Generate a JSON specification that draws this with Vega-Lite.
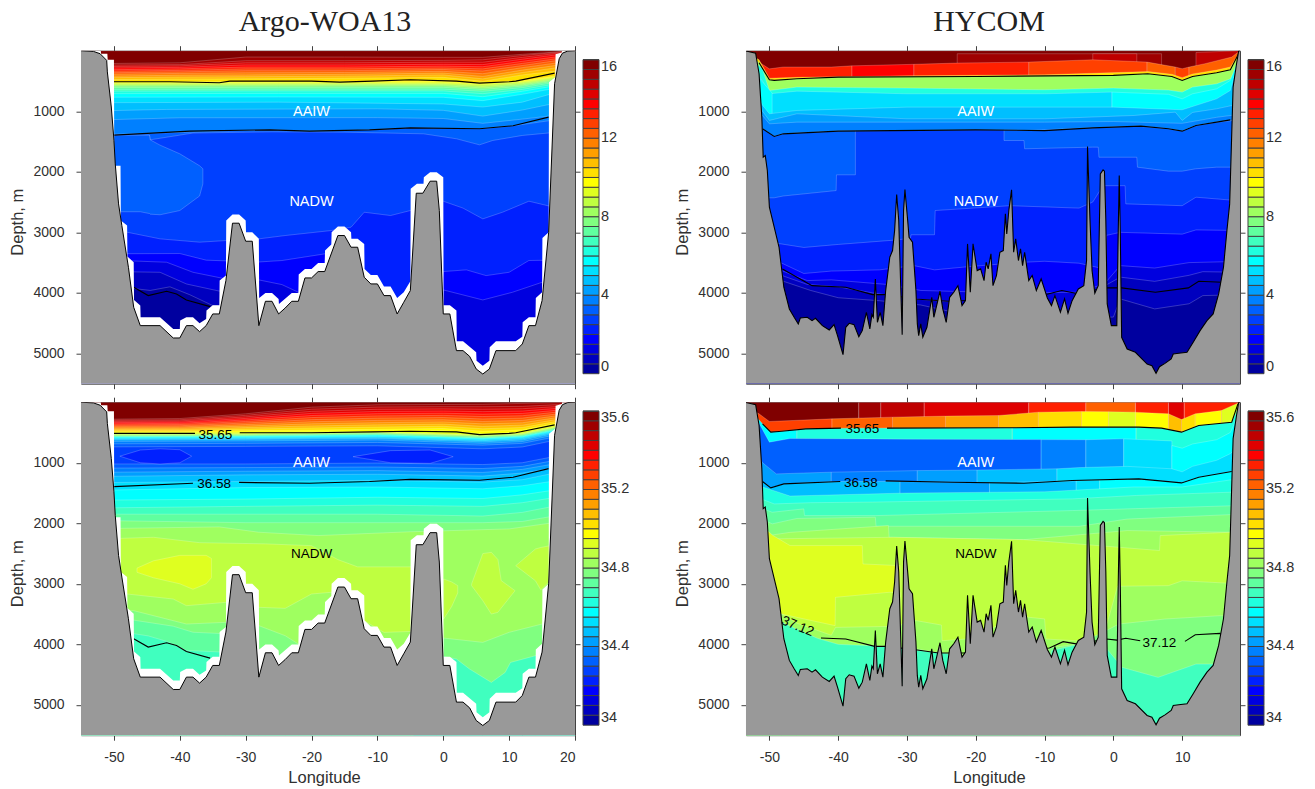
{"$schema":"https://vega.github.io/schema/vega-lite/v6.json","background":"white","padding":{"left":9,"top":6.7,"right":0,"bottom":0},"columns":2,"spacing":{"row":6.5,"column":44},"resolve":{"scale":{"color":"independent"}},
"config":{"view":{"stroke":null},"axis":{"grid":false,"domainColor":"#404040","tickColor":"#404040","labelColor":"#303030","titleColor":"#303030","labelFont":"Liberation Sans","titleFont":"Liberation Sans","labelFontSize":14,"titleFontSize":16.5,"titleFontWeight":"normal","tickSize":5,"zindex":1,"labelPadding":12,"labelExpr":"''+datum.value"},"axisX":{"labelPadding":10},"legend":{"labelFont":"Liberation Sans","labelFontSize":14.5,"labelColor":"#303030","labelOffset":14}},
"datasets":{
"bA":[{"x":-55,"d":0},{"x":-53.1,"d":12},{"x":-52.1,"d":50},{"x":-51.1,"d":160},{"x":-51,"d":350},{"x":-50.4,"d":930},{"x":-50,"d":1480},{"x":-49.8,"d":1870},{"x":-49.3,"d":2530},{"x":-48.8,"d":2888},{"x":-47.8,"d":3577},{"x":-47,"d":4238},{"x":-46,"d":4541},{"x":-43,"d":4541},{"x":-41,"d":4745},{"x":-40,"d":4745},{"x":-39,"d":4541},{"x":-38,"d":4541},{"x":-37,"d":4640},{"x":-36,"d":4541},{"x":-35,"d":4348},{"x":-34,"d":4348},{"x":-33,"d":3797},{"x":-32,"d":2849},{"x":-31,"d":2849},{"x":-30,"d":3147},{"x":-29,"d":3147},{"x":-28,"d":4541},{"x":-27,"d":4139},{"x":-26,"d":4139},{"x":-25,"d":4348},{"x":-24,"d":4250},{"x":-23,"d":4139},{"x":-22,"d":4139},{"x":-21,"d":3753},{"x":-20,"d":3753},{"x":-19,"d":3648},{"x":-18,"d":3648},{"x":-16,"d":3053},{"x":-15,"d":3053},{"x":-14,"d":3246},{"x":-13,"d":3246},{"x":-12,"d":3742},{"x":-11,"d":3852},{"x":-10,"d":3852},{"x":-9,"d":4045},{"x":-8,"d":4045},{"x":-7,"d":4348},{"x":-6,"d":4155},{"x":-5,"d":3962},{"x":-4.1,"d":2354},{"x":-3.1,"d":2354},{"x":-2,"d":2155},{"x":-1,"d":2155},{"x":-0.6,"d":2640},{"x":0,"d":4348},{"x":1,"d":4348},{"x":2,"d":4954},{"x":3,"d":4954},{"x":4,"d":5048},{"x":5,"d":5257},{"x":6,"d":5340},{"x":7,"d":5257},{"x":8,"d":4954},{"x":11,"d":4954},{"x":12,"d":4844},{"x":13,"d":4541},{"x":14,"d":4541},{"x":15,"d":4128},{"x":16,"d":3000},{"x":16.9,"d":546},{"x":17.6,"d":133},{"x":18.1,"d":40},{"x":18.9,"d":6},{"x":20,"d":0}],
"mA":[{"x":-55,"d":0},{"x":-52,"d":0},{"x":-51.95,"d":50},{"x":-51,"d":50},{"x":-50.95,"d":150},{"x":-50,"d":150},{"x":-49.95,"d":1900},{"x":-49,"d":1900},{"x":-48.95,"d":2805},{"x":-48,"d":2888},{"x":-47.95,"d":3400},{"x":-47,"d":3494},{"x":-46.95,"d":4117},{"x":-46,"d":4210},{"x":-45.95,"d":4403},{"x":-43,"d":4403},{"x":-41,"d":4596},{"x":-40,"d":4596},{"x":-39.95,"d":4458},{"x":-39,"d":4403},{"x":-38,"d":4403},{"x":-37,"d":4502},{"x":-36,"d":4430},{"x":-35.95,"d":4293},{"x":-35,"d":4205},{"x":-34,"d":4205},{"x":-33.95,"d":3797},{"x":-33,"d":3714},{"x":-32.95,"d":2805},{"x":-32,"d":2706},{"x":-31,"d":2706},{"x":-30,"d":2805},{"x":-29.95,"d":2998},{"x":-29,"d":2998},{"x":-28,"d":3108},{"x":-27.95,"d":4084},{"x":-27,"d":4001},{"x":-26,"d":4001},{"x":-25,"d":4100},{"x":-24.95,"d":4183},{"x":-23,"d":4001},{"x":-22,"d":4001},{"x":-21.95,"d":3698},{"x":-21,"d":3604},{"x":-20,"d":3604},{"x":-19,"d":3505},{"x":-18,"d":3505},{"x":-17.95,"d":3301},{"x":-17,"d":3202},{"x":-16.95,"d":2998},{"x":-16,"d":2904},{"x":-15,"d":2904},{"x":-14,"d":2998},{"x":-13.95,"d":3108},{"x":-13,"d":3108},{"x":-12,"d":3191},{"x":-11.95,"d":3604},{"x":-11,"d":3703},{"x":-10,"d":3703},{"x":-9,"d":3896},{"x":-8,"d":3896},{"x":-7,"d":4084},{"x":-6,"d":3990},{"x":-5,"d":3808},{"x":-4.95,"d":2282},{"x":-4,"d":2199},{"x":-3,"d":2199},{"x":-2.95,"d":2089},{"x":-2,"d":2006},{"x":-1,"d":2006},{"x":0,"d":2089},{"x":0.05,"d":4205},{"x":1,"d":4205},{"x":2,"d":4293},{"x":2.05,"d":4800},{"x":3,"d":4800},{"x":5,"d":4982},{"x":5.05,"d":5120},{"x":6,"d":5202},{"x":7,"d":5120},{"x":7.05,"d":4899},{"x":8,"d":4800},{"x":11,"d":4800},{"x":12,"d":4723},{"x":12.05,"d":4486},{"x":13,"d":4403},{"x":14,"d":4403},{"x":14.05,"d":4084},{"x":15,"d":3990},{"x":15.05,"d":3092},{"x":16,"d":3000},{"x":16.05,"d":520},{"x":17,"d":440},{"x":17.05,"d":60},{"x":18,"d":30},{"x":18.05,"d":0},{"x":20,"d":0}],
"bH":[{"x":-53.4,"d":6},{"x":-52,"d":40},{"x":-51.5,"d":380},{"x":-51.1,"d":1097},{"x":-50.9,"d":1758},{"x":-50.6,"d":1731},{"x":-50.3,"d":1979},{"x":-50,"d":2585},{"x":-49.3,"d":2915},{"x":-48.6,"d":3246},{"x":-47.9,"d":3907},{"x":-47.1,"d":4265},{"x":-46.4,"d":4403},{"x":-45.8,"d":4513},{"x":-45.5,"d":4414},{"x":-44.5,"d":4403},{"x":-43.8,"d":4458},{"x":-43.3,"d":4420},{"x":-42.3,"d":4541},{"x":-41.3,"d":4613},{"x":-40.6,"d":4524},{"x":-40.1,"d":4706},{"x":-39.3,"d":5020},{"x":-38.9,"d":4568},{"x":-38.4,"d":4502},{"x":-37.7,"d":4524},{"x":-37,"d":4723},{"x":-36.5,"d":4624},{"x":-35.9,"d":4321},{"x":-35.4,"d":4596},{"x":-35.1,"d":4359},{"x":-34.9,"d":4403},{"x":-34.6,"d":3770},{"x":-34.3,"d":4486},{"x":-33.9,"d":4321},{"x":-33.5,"d":4541},{"x":-33.1,"d":3962},{"x":-32.5,"d":3411},{"x":-32.1,"d":3301},{"x":-31.8,"d":2970},{"x":-31.5,"d":2376},{"x":-31.2,"d":2805},{"x":-30.7,"d":4690},{"x":-30.5,"d":2640},{"x":-30.3,"d":2293},{"x":-29.9,"d":2805},{"x":-29.7,"d":3081},{"x":-29.2,"d":3163},{"x":-28.7,"d":3962},{"x":-28.5,"d":4513},{"x":-28.3,"d":4706},{"x":-28,"d":4513},{"x":-27.7,"d":4734},{"x":-27.1,"d":4568},{"x":-26.4,"d":4073},{"x":-26.1,"d":4403},{"x":-25.8,"d":4265},{"x":-25.2,"d":3973},{"x":-24.8,"d":4265},{"x":-24.3,"d":4486},{"x":-23.8,"d":4073},{"x":-23.2,"d":3990},{"x":-22.6,"d":3880},{"x":-22,"d":4210},{"x":-21.5,"d":4128},{"x":-21.2,"d":3191},{"x":-20.8,"d":3990},{"x":-20.4,"d":3191},{"x":-19.8,"d":3632},{"x":-19.3,"d":3604},{"x":-18.8,"d":3797},{"x":-18.5,"d":3494},{"x":-18.2,"d":3604},{"x":-17.8,"d":3356},{"x":-17.5,"d":3880},{"x":-17,"d":3714},{"x":-16.5,"d":3329},{"x":-16,"d":3301},{"x":-15.7,"d":2695},{"x":-15.5,"d":3026},{"x":-15.2,"d":2640},{"x":-14.8,"d":2298},{"x":-14.5,"d":3329},{"x":-14.2,"d":3108},{"x":-13.8,"d":3466},{"x":-13.5,"d":3274},{"x":-13.2,"d":3549},{"x":-12.9,"d":3329},{"x":-12.3,"d":3797},{"x":-11.8,"d":3714},{"x":-11.2,"d":3962},{"x":-10.5,"d":3770},{"x":-9.6,"d":4084},{"x":-9,"d":4210},{"x":-8.5,"d":4045},{"x":-7.7,"d":4321},{"x":-7.1,"d":4100},{"x":-6.6,"d":4337},{"x":-6,"d":4128},{"x":-5.1,"d":3935},{"x":-4.3,"d":3880},{"x":-3.9,"d":3466},{"x":-3.76,"d":1582},{"x":-3.4,"d":2805},{"x":-3.1,"d":3632},{"x":-2.7,"d":4007},{"x":-2.2,"d":3880},{"x":-1.9,"d":2034},{"x":-1.5,"d":1968},{"x":-1.3,"d":1990},{"x":-1.1,"d":2805},{"x":-0.9,"d":4183},{"x":-0.3,"d":4541},{"x":0.5,"d":4541},{"x":0.7,"d":3000},{"x":0.85,"d":2061},{"x":1,"d":3000},{"x":1.2,"d":4734},{"x":2,"d":4927},{"x":3.2,"d":4982},{"x":4.9,"d":5175},{"x":5.6,"d":5202},{"x":6.2,"d":5329},{"x":6.7,"d":5219},{"x":7.5,"d":5164},{"x":8.4,"d":5092},{"x":8.7,"d":5009},{"x":9.5,"d":4998},{"x":10.7,"d":4982},{"x":11.6,"d":4816},{"x":12.6,"d":4624},{"x":13.6,"d":4458},{"x":14.5,"d":4348},{"x":15.3,"d":4018},{"x":16,"d":3577},{"x":16.5,"d":2970},{"x":16.9,"d":2530},{"x":17.4,"d":601},{"x":17.9,"d":216},{"x":18.2,"d":6},{"x":18.4,"d":0}],
"pA":[{"v":3.26,"x":-55,"d":1395,"b":2660},{"v":3.26,"x":-46,"d":1395,"b":2660},{"v":3.26,"x":-44.6,"d":1395,"b":2690},{"v":3.26,"x":-44.5,"d":1472,"b":2700},{"v":3.26,"x":-43,"d":1560,"b":2710},{"v":3.26,"x":-40,"d":1703,"b":2640},{"v":3.26,"x":-37,"d":1900,"b":2400},{"v":3.26,"x":-36.5,"d":1950,"b":2200}],
"pB":[{"v":3.26,"x":-53.4,"d":1200,"b":2430},{"v":3.26,"x":-51,"d":1290,"b":2430},{"v":3.26,"x":-49.3,"d":1417,"b":2430},{"v":3.26,"x":-48,"d":1373,"b":2400},{"v":3.26,"x":-40.3,"d":1329,"b":2310},{"v":3.26,"x":-40.25,"d":1329,"b":2050},{"v":3.26,"x":-37.5,"d":1320,"b":2050},
{"v":3.27,"x":-15.9,"d":1312,"b":1483},{"v":3.27,"x":-13,"d":1318,"b":1483},{"v":3.27,"x":-12.9,"d":1318,"b":1620},{"v":3.27,"x":-3,"d":1274,"b":1593},{"v":3.27,"x":-2.2,"d":1270,"b":1593},{"v":3.27,"x":-2.1,"d":1268,"b":1760},{"v":3.27,"x":3.4,"d":1248,"b":1760},{"v":3.27,"x":3.5,"d":1247,"b":1924},{"v":3.27,"x":8,"d":1290,"b":1990},{"v":3.27,"x":10,"d":1329,"b":1990},{"v":3.27,"x":12,"d":1235,"b":1950},{"v":3.27,"x":15,"d":1180,"b":1924},{"v":3.27,"x":18.4,"d":1142,"b":1924}],
"pC":[{"v":34.225,"x":-49.1,"d":892,"b":892},{"v":34.225,"x":-46,"d":790,"b":1000},{"v":34.225,"x":-43,"d":770,"b":1020},{"v":34.225,"x":-40,"d":785,"b":1000},{"v":34.225,"x":-38.2,"d":892,"b":892},
{"v":34.226,"x":-13.7,"d":900,"b":900},{"v":34.226,"x":-8,"d":800,"b":1000},{"v":34.226,"x":-2,"d":790,"b":1010},{"v":34.226,"x":1.5,"d":900,"b":900},
{"v":34.926,"x":-46.5,"d":2740,"b":2810},{"v":34.926,"x":-44,"d":2620,"b":2900},{"v":34.926,"x":-40,"d":2530,"b":3000},{"v":34.926,"x":-38,"d":2530,"b":3090},{"v":34.926,"x":-36,"d":2530,"b":3000},{"v":34.926,"x":-35.2,"d":2580,"b":2900},
{"v":34.877,"x":0.05,"d":2920,"b":3581},{"v":34.877,"x":1.3,"d":2970,"b":3370},{"v":34.877,"x":2.2,"d":3030,"b":3150},
{"v":34.878,"x":4.3,"d":3003,"b":3030},{"v":34.878,"x":6,"d":2500,"b":3278},{"v":34.878,"x":7.3,"d":2480,"b":3500},{"v":34.878,"x":8.3,"d":2600,"b":3470},{"v":34.878,"x":8.8,"d":2947,"b":3400},{"v":34.878,"x":10.9,"d":3113,"b":3113},
{"v":34.879,"x":11,"d":2700,"b":2700},{"v":34.879,"x":14,"d":2424,"b":2950},{"v":34.879,"x":14.8,"d":2400,"b":3100},{"v":34.879,"x":16.2,"d":2370,"b":2950}],
"tA":[{"v":15.75,"x":-55,"d":0},{"v":15.75,"x":20,"d":0},
{"v":15.25,"x":-55,"d":216},{"v":15.25,"x":-40,"d":200},{"v":15.25,"x":-30,"d":105},{"v":15.25,"x":-15,"d":105},{"v":15.25,"x":0,"d":110},{"v":15.25,"x":6,"d":110},{"v":15.25,"x":12,"d":60},{"v":15.25,"x":20,"d":0},
{"v":14.75,"x":-55,"d":240},{"v":14.75,"x":-40,"d":230},{"v":14.75,"x":-30,"d":165},{"v":14.75,"x":-15,"d":165},{"v":14.75,"x":0,"d":160},{"v":14.75,"x":6,"d":150},{"v":14.75,"x":12,"d":80},{"v":14.75,"x":20,"d":0},
{"v":14.25,"x":-55,"d":265},{"v":14.25,"x":-40,"d":250},{"v":14.25,"x":-30,"d":200},{"v":14.25,"x":-15,"d":200},{"v":14.25,"x":0,"d":190},{"v":14.25,"x":6,"d":190},{"v":14.25,"x":12,"d":110},{"v":14.25,"x":20,"d":10},
{"v":13.75,"x":-55,"d":290},{"v":13.75,"x":-40,"d":275},{"v":13.75,"x":-30,"d":235},{"v":13.75,"x":-15,"d":235},{"v":13.75,"x":0,"d":225},{"v":13.75,"x":6,"d":230},{"v":13.75,"x":12,"d":140},{"v":13.75,"x":20,"d":30},
{"v":13.25,"x":-55,"d":320},{"v":13.25,"x":-40,"d":300},{"v":13.25,"x":-30,"d":270},{"v":13.25,"x":-15,"d":270},{"v":13.25,"x":0,"d":255},{"v":13.25,"x":6,"d":265},{"v":13.25,"x":12,"d":175},{"v":13.25,"x":20,"d":60},
{"v":12.75,"x":-55,"d":345},{"v":12.75,"x":-40,"d":325},{"v":12.75,"x":-30,"d":300},{"v":12.75,"x":-15,"d":300},{"v":12.75,"x":0,"d":285},{"v":12.75,"x":6,"d":300},{"v":12.75,"x":12,"d":210},{"v":12.75,"x":20,"d":90},
{"v":12.25,"x":-55,"d":370},{"v":12.25,"x":-40,"d":350},{"v":12.25,"x":-30,"d":330},{"v":12.25,"x":-15,"d":330},{"v":12.25,"x":0,"d":310},{"v":12.25,"x":6,"d":335},{"v":12.25,"x":12,"d":245},{"v":12.25,"x":20,"d":120},
{"v":11.75,"x":-55,"d":395},{"v":11.75,"x":-40,"d":375},{"v":11.75,"x":-30,"d":365},{"v":11.75,"x":-15,"d":360},{"v":11.75,"x":0,"d":340},{"v":11.75,"x":6,"d":380},{"v":11.75,"x":12,"d":280},{"v":11.75,"x":20,"d":160},
{"v":11.25,"x":-55,"d":425},{"v":11.25,"x":-40,"d":405},{"v":11.25,"x":-30,"d":400},{"v":11.25,"x":-15,"d":390},{"v":11.25,"x":0,"d":370},{"v":11.25,"x":6,"d":425},{"v":11.25,"x":12,"d":320},{"v":11.25,"x":20,"d":200},
{"v":10.75,"x":-55,"d":450},{"v":10.75,"x":-40,"d":435},{"v":10.75,"x":-30,"d":430},{"v":10.75,"x":-15,"d":420},{"v":10.75,"x":0,"d":400},{"v":10.75,"x":6,"d":465},{"v":10.75,"x":12,"d":360},{"v":10.75,"x":20,"d":240},
{"v":10.25,"x":-55,"d":480},{"v":10.25,"x":-40,"d":470},{"v":10.25,"x":-30,"d":465},{"v":10.25,"x":-15,"d":455},{"v":10.25,"x":0,"d":440},{"v":10.25,"x":6,"d":505},{"v":10.25,"x":12,"d":400},{"v":10.25,"x":20,"d":300},
{"v":9.75,"x":-55,"d":513},{"v":9.75,"x":-40,"d":513},{"v":9.75,"x":-25,"d":510},{"v":9.75,"x":-10,"d":505},{"v":9.75,"x":0,"d":505},{"v":9.75,"x":6,"d":535},{"v":9.75,"x":12,"d":495},{"v":9.75,"x":20,"d":370},
{"v":9.25,"x":-55,"d":530},{"v":9.25,"x":-25,"d":525},{"v":9.25,"x":0,"d":520},{"v":9.25,"x":6,"d":550},{"v":9.25,"x":12,"d":510},{"v":9.25,"x":20,"d":385},
{"v":8.75,"x":-55,"d":545},{"v":8.75,"x":-25,"d":540},{"v":8.75,"x":0,"d":540},{"v":8.75,"x":6,"d":565},{"v":8.75,"x":12,"d":525},{"v":8.75,"x":20,"d":400},
{"v":8.25,"x":-55,"d":565},{"v":8.25,"x":-25,"d":560},{"v":8.25,"x":0,"d":560},{"v":8.25,"x":6,"d":590},{"v":8.25,"x":12,"d":545},{"v":8.25,"x":20,"d":415},
{"v":7.75,"x":-55,"d":585},{"v":7.75,"x":-25,"d":580},{"v":7.75,"x":0,"d":580},{"v":7.75,"x":6,"d":615},{"v":7.75,"x":12,"d":565},{"v":7.75,"x":20,"d":430},
{"v":7.25,"x":-55,"d":610},{"v":7.25,"x":-25,"d":605},{"v":7.25,"x":0,"d":605},{"v":7.25,"x":6,"d":640},{"v":7.25,"x":12,"d":585},{"v":7.25,"x":20,"d":450},
{"v":6.75,"x":-55,"d":640},{"v":6.75,"x":-25,"d":635},{"v":6.75,"x":0,"d":635},{"v":6.75,"x":6,"d":670},{"v":6.75,"x":12,"d":610},{"v":6.75,"x":20,"d":470},
{"v":6.25,"x":-55,"d":670},{"v":6.25,"x":-25,"d":665},{"v":6.25,"x":0,"d":665},{"v":6.25,"x":6,"d":710},{"v":6.25,"x":12,"d":640},{"v":6.25,"x":20,"d":495},
{"v":5.75,"x":-55,"d":710},{"v":5.75,"x":-25,"d":705},{"v":5.75,"x":0,"d":705},{"v":5.75,"x":6,"d":760},{"v":5.75,"x":12,"d":670},{"v":5.75,"x":20,"d":525},
{"v":5.25,"x":-55,"d":770},{"v":5.25,"x":-25,"d":765},{"v":5.25,"x":0,"d":770},{"v":5.25,"x":6,"d":825},{"v":5.25,"x":12,"d":720},{"v":5.25,"x":20,"d":560},
{"v":4.75,"x":-55,"d":860},{"v":4.75,"x":-25,"d":850},{"v":4.75,"x":0,"d":880},{"v":4.75,"x":6,"d":930},{"v":4.75,"x":12,"d":850},{"v":4.75,"x":20,"d":600},
{"v":4.25,"x":-55,"d":1000},{"v":4.25,"x":-42,"d":970},{"v":4.25,"x":-10,"d":960},{"v":4.25,"x":0,"d":985},{"v":4.25,"x":6,"d":1080},{"v":4.25,"x":12,"d":980},{"v":4.25,"x":20,"d":800},
{"v":3.75,"x":-55,"d":1152},{"v":3.75,"x":-40,"d":1108},{"v":3.75,"x":-10,"d":1105},{"v":3.75,"x":0,"d":1120},{"v":3.75,"x":6,"d":1200},{"v":3.75,"x":12,"d":1130},{"v":3.75,"x":20,"d":1030},
{"v":3.25,"x":-55,"d":1395},{"v":3.25,"x":-40,"d":1350},{"v":3.25,"x":-26,"d":1307},{"v":3.25,"x":-20,"d":1329},{"v":3.25,"x":-11,"d":1307},{"v":3.25,"x":-5,"d":1274},{"v":3.25,"x":5.5,"d":1290},{"v":3.25,"x":10.6,"d":1240},{"v":3.25,"x":20,"d":1097},
{"v":2.75,"x":-55,"d":1395},{"v":2.75,"x":-44.6,"d":1395},{"v":2.75,"x":-44.5,"d":1472},{"v":2.75,"x":-38,"d":1360},{"v":2.75,"x":-26,"d":1340},{"v":2.75,"x":-15,"d":1345},{"v":2.75,"x":-3,"d":1373},{"v":2.75,"x":2,"d":1455},{"v":2.75,"x":5.5,"d":1555},{"v":2.75,"x":7.5,"d":1483},{"v":2.75,"x":12,"d":1400},{"v":2.75,"x":20,"d":1318},
{"v":2.25,"x":-55,"d":2998},{"v":2.25,"x":-48,"d":2998},{"v":2.25,"x":-43,"d":3108},{"v":2.25,"x":-37,"d":3163},{"v":2.25,"x":-33,"d":3136},{"v":2.25,"x":-28,"d":3108},{"v":2.25,"x":-24,"d":3053},{"v":2.25,"x":-17,"d":2970},{"v":2.25,"x":-14,"d":2915},{"v":2.25,"x":-12,"d":2668},{"v":2.25,"x":-8,"d":2723},{"v":2.25,"x":-5,"d":2640},{"v":2.25,"x":0,"d":2486},{"v":2.25,"x":3,"d":2600},{"v":2.25,"x":6,"d":2778},{"v":2.25,"x":9,"d":2668},{"v":2.25,"x":13,"d":2486},{"v":2.25,"x":20,"d":2668},
{"v":1.75,"x":-55,"d":3356},{"v":1.75,"x":-40,"d":3350},{"v":1.75,"x":-36,"d":3460},{"v":1.75,"x":-28,"d":3490},{"v":1.75,"x":-24.5,"d":3466},{"v":1.75,"x":-18,"d":3356},{"v":1.75,"x":-14,"d":3300},{"v":1.75,"x":-13,"d":4600},{"v":1.75,"x":-1,"d":4600},{"v":1.75,"x":0,"d":3648},{"v":1.75,"x":3.5,"d":3620},{"v":1.75,"x":6.5,"d":3715},{"v":1.75,"x":10,"d":3660},{"v":1.75,"x":13,"d":3465},{"v":1.75,"x":20,"d":3455},
{"v":1.25,"x":-55,"d":3440},{"v":1.25,"x":-42,"d":3494},{"v":1.25,"x":-38,"d":3660},{"v":1.25,"x":-33,"d":3770},{"v":1.25,"x":-28,"d":3786},{"v":1.25,"x":-24.5,"d":3863},{"v":1.25,"x":-22,"d":3990},{"v":1.25,"x":-18,"d":4600},{"v":1.25,"x":-1,"d":4600},{"v":1.25,"x":0,"d":3951},{"v":1.25,"x":6,"d":4117},{"v":1.25,"x":10.5,"d":3990},{"v":1.25,"x":15,"d":3825},{"v":1.25,"x":20,"d":3825},
{"v":0.75,"x":-55,"d":3640},{"v":0.75,"x":-43,"d":3660},{"v":0.75,"x":-39,"d":3853},{"v":0.75,"x":-32,"d":4018},
{"v":0.25,"x":-55,"d":3825},{"v":0.25,"x":-44.5,"d":3960},{"v":0.25,"x":-41.5,"d":3900},{"v":0.25,"x":-38.5,"d":4030},{"v":0.25,"x":-35,"d":4210},{"v":0.25,"x":-32,"d":4230}],
"lA":[{"s":1,"x":-50,"d":513},{"s":1,"x":-41.5,"d":513},{"s":1,"x":-34,"d":530},{"s":1,"x":-32.4,"d":502},{"s":1,"x":-20,"d":502},{"s":1,"x":-15.7,"d":519},{"s":1,"x":-10.7,"d":502},{"s":1,"x":-5,"d":480},{"s":1,"x":2,"d":502},{"s":1,"x":5.5,"d":535},{"s":1,"x":10,"d":513},{"s":1,"x":11,"d":502},{"s":1,"x":16.9,"d":370},
{"s":2,"x":-50,"d":1395},{"s":2,"x":-38.5,"d":1329},{"s":2,"x":-26.3,"d":1307},{"s":2,"x":-20.3,"d":1329},{"s":2,"x":-11.2,"d":1307},{"s":2,"x":-5,"d":1274},{"s":2,"x":5.5,"d":1290},{"s":2,"x":10.6,"d":1240},{"s":2,"x":16,"d":1097},
{"s":3,"x":-47,"d":3907},{"s":3,"x":-44.8,"d":4045},{"s":3,"x":-42,"d":3973},{"s":3,"x":-40.5,"d":4018},{"s":3,"x":-39,"d":4117},{"s":3,"x":-35.4,"d":4227}],
"tB":[{"v":15.75,"x":-53.4,"d":0},{"v":15.75,"x":18.4,"d":0},
{"v":15.26,"x":-22.7,"d":50},{"v":15.26,"x":7,"d":50},{"v":14.76,"x":-3,"d":50},{"v":14.76,"x":3.4,"d":50},{"v":14.75,"x":12,"d":30},{"v":14.75,"x":18.4,"d":0},
{"v":13.25,"x":-53,"d":50},{"v":13.25,"x":-51.5,"d":190},{"v":13.25,"x":-50,"d":300},{"v":13.25,"x":-48,"d":270},{"v":13.25,"x":-41,"d":270},{"v":13.25,"x":-38,"d":250},
{"v":13.75,"x":-38,"d":250},{"v":13.75,"x":-29,"d":225},
{"v":13.26,"x":-29,"d":225},{"v":13.26,"x":-23,"d":205},{"v":13.26,"x":-12.3,"d":188},
{"v":12.75,"x":-12.3,"d":188},{"v":12.75,"x":-3,"d":150},{"v":12.75,"x":4.9,"d":188},
{"v":12.25,"x":4.9,"d":188},{"v":12.25,"x":9,"d":270},
{"v":12.76,"x":9,"d":270},{"v":12.76,"x":10,"d":298},{"v":12.76,"x":11,"d":270},
{"v":12.26,"x":11,"d":270},{"v":12.26,"x":13.3,"d":215},{"v":12.26,"x":17.2,"d":105},{"v":12.26,"x":18.4,"d":0},
{"v":10.25,"x":-53,"d":50},{"v":10.25,"x":-51.5,"d":150},{"v":10.25,"x":-50,"d":455},{"v":10.25,"x":-46,"d":440},{"v":10.25,"x":-30,"d":415},{"v":10.25,"x":-10,"d":398},{"v":10.25,"x":5,"d":345},{"v":10.25,"x":8.5,"d":390},{"v":10.25,"x":10,"d":445},{"v":10.25,"x":11.5,"d":385},{"v":10.25,"x":15,"d":320},{"v":10.25,"x":17,"d":270},{"v":10.25,"x":18.4,"d":20},
{"v":8.25,"x":-53,"d":50},{"v":8.25,"x":-51.5,"d":200},{"v":8.25,"x":-50,"d":480},{"v":8.25,"x":-49.3,"d":490},{"v":8.25,"x":-46,"d":464},{"v":8.25,"x":-40,"d":436},{"v":8.25,"x":-20,"d":425},{"v":8.25,"x":0,"d":408},{"v":8.25,"x":5,"d":381},{"v":8.25,"x":8.5,"d":425},{"v":8.25,"x":10,"d":491},{"v":8.25,"x":11.5,"d":425},{"v":8.25,"x":15,"d":364},{"v":8.25,"x":17,"d":315},{"v":8.25,"x":18.4,"d":50},
{"v":6.25,"x":-53,"d":100},{"v":6.25,"x":-51,"d":300},{"v":6.25,"x":-50,"d":657},{"v":6.25,"x":-46,"d":601},{"v":6.25,"x":-30,"d":618},{"v":6.25,"x":-10,"d":645},{"v":6.25,"x":0,"d":618},{"v":6.25,"x":8,"d":650},{"v":6.25,"x":10,"d":684},{"v":6.25,"x":11.5,"d":601},{"v":6.25,"x":15,"d":546},{"v":6.25,"x":17,"d":464},{"v":6.25,"x":18.4,"d":160},
{"v":5.25,"x":-53,"d":200},{"v":5.25,"x":-51,"d":500},{"v":5.25,"x":-50,"d":712},{"v":5.25,"x":-46,"d":668},{"v":5.25,"x":-30,"d":712},{"v":5.25,"x":-10,"d":712},{"v":5.25,"x":-0.2,"d":684},
{"v":5.75,"x":-0.2,"d":684},{"v":5.75,"x":8,"d":720},{"v":5.75,"x":10,"d":795},{"v":5.75,"x":11.5,"d":712},{"v":5.75,"x":15,"d":630},{"v":5.75,"x":17,"d":491},{"v":5.75,"x":18.4,"d":60},
{"v":5.76,"x":-51.5,"d":450},{"v":5.76,"x":-49.6,"d":700},
{"v":4.75,"x":-53,"d":400},{"v":4.75,"x":-51,"d":900},{"v":4.75,"x":-50,"d":1042},{"v":4.75,"x":-46,"d":987},{"v":4.75,"x":-30,"d":932},{"v":4.75,"x":0,"d":932},{"v":4.75,"x":10,"d":976},{"v":4.75,"x":15,"d":795},{"v":4.75,"x":17,"d":657},{"v":4.75,"x":18.4,"d":60},
{"v":4.25,"x":-53,"d":500},{"v":4.25,"x":-51,"d":1000},{"v":4.25,"x":-50,"d":1152},{"v":4.25,"x":-46,"d":1042},{"v":4.25,"x":-30,"d":1125},{"v":4.25,"x":-10,"d":1125},{"v":4.25,"x":3,"d":1070},{"v":4.25,"x":9,"d":1015},{"v":4.25,"x":10,"d":1152},{"v":4.25,"x":11.5,"d":1020},{"v":4.25,"x":15,"d":960},{"v":4.25,"x":18.4,"d":877},
{"v":3.75,"x":-53,"d":800},{"v":3.75,"x":-50,"d":1208},{"v":3.75,"x":-46,"d":1180},{"v":3.75,"x":-10,"d":1180},{"v":3.75,"x":0,"d":1170},{"v":3.75,"x":10,"d":1200},{"v":3.75,"x":15,"d":1100},{"v":3.75,"x":18.4,"d":1050},
{"v":2.75,"x":-53.4,"d":1200},{"v":2.75,"x":-51,"d":1290},{"v":2.75,"x":-49.3,"d":1417},{"v":2.75,"x":-48,"d":1373},{"v":2.75,"x":-40,"d":1329},{"v":2.75,"x":-20,"d":1307},{"v":2.75,"x":-10,"d":1320},{"v":2.75,"x":-3,"d":1274},{"v":2.75,"x":4,"d":1246},{"v":2.75,"x":8,"d":1290},{"v":2.75,"x":10,"d":1329},{"v":2.75,"x":12,"d":1235},{"v":2.75,"x":15,"d":1180},{"v":2.75,"x":18.4,"d":1142},
{"v":2.25,"x":-53.4,"d":3100},{"v":2.25,"x":-45,"d":3250},{"v":2.25,"x":-40,"d":3200},{"v":2.25,"x":-32,"d":3130},{"v":2.25,"x":-29.5,"d":3100},{"v":2.25,"x":-29.4,"d":3040},{"v":2.25,"x":-26,"d":3040},{"v":2.25,"x":-25.9,"d":2640},{"v":2.25,"x":-15,"d":2560},{"v":2.25,"x":-5,"d":2600},{"v":2.25,"x":-3,"d":2500},{"v":2.25,"x":-1.5,"d":2230},{"v":2.25,"x":1.7,"d":2230},{"v":2.25,"x":1.8,"d":2530},{"v":2.25,"x":10,"d":2560},{"v":2.25,"x":12,"d":2420},{"v":2.25,"x":18.4,"d":2480},
{"v":1.75,"x":-53.4,"d":3400},{"v":1.75,"x":-49.5,"d":3440},{"v":1.75,"x":-45,"d":3680},{"v":1.75,"x":-41,"d":3640},{"v":1.75,"x":-34,"d":3620},{"v":1.75,"x":-29,"d":3550},{"v":1.75,"x":-26,"d":3620},{"v":1.75,"x":-22,"d":3577},{"v":1.75,"x":-14,"d":3500},{"v":1.75,"x":-10,"d":3478},{"v":1.75,"x":-5,"d":3510},{"v":1.75,"x":-1.5,"d":3600},{"v":1.75,"x":-1,"d":3050},{"v":1.75,"x":1,"d":3000},{"v":1.75,"x":10,"d":3030},{"v":1.75,"x":12,"d":2960},{"v":1.75,"x":18.4,"d":2970},
{"v":1.25,"x":-53.4,"d":3550},{"v":1.25,"x":-49.5,"d":3577},{"v":1.25,"x":-44.5,"d":3797},{"v":1.25,"x":-41,"d":3785},{"v":1.25,"x":-33,"d":3860},{"v":1.25,"x":-28,"d":3960},{"v":1.25,"x":-15,"d":4000},{"v":1.25,"x":-5,"d":3990},{"v":1.25,"x":-1.3,"d":3850},{"v":1.25,"x":1,"d":3550},{"v":1.25,"x":6,"d":3590},{"v":1.25,"x":11,"d":3500},{"v":1.25,"x":18.4,"d":3480},
{"v":0.75,"x":-53.4,"d":3600},{"v":0.75,"x":-49.5,"d":3660},{"v":0.75,"x":-44.5,"d":3860},{"v":0.75,"x":-40,"d":3900},{"v":0.75,"x":-35,"d":4000},{"v":0.75,"x":-29,"d":4100},{"v":0.75,"x":-23,"d":4150},{"v":0.75,"x":-15,"d":4900},{"v":0.75,"x":-2,"d":4900},{"v":0.75,"x":-1.5,"d":3900},{"v":0.75,"x":1,"d":3740},{"v":0.75,"x":6,"d":3810},{"v":0.75,"x":11,"d":3710},{"v":0.75,"x":13,"d":3650},{"v":0.75,"x":18.4,"d":3660},
{"v":0.25,"x":-53.4,"d":3700},{"v":0.25,"x":-49.5,"d":3750},{"v":0.25,"x":-44,"d":3960},{"v":0.25,"x":-40,"d":4080},{"v":0.25,"x":-34,"d":4130},{"v":0.25,"x":-28,"d":4200},{"v":0.25,"x":-20,"d":4400},{"v":0.25,"x":0,"d":4400},{"v":0.25,"x":1,"d":4100},{"v":0.25,"x":6,"d":4265},{"v":0.25,"x":11,"d":4180},{"v":0.25,"x":13,"d":4045},{"v":0.25,"x":18.4,"d":4030}],
"lB":[{"s":1,"x":-51.5,"d":200},{"s":1,"x":-50,"d":480},{"s":1,"x":-49.3,"d":490},{"s":1,"x":-46,"d":464},{"s":1,"x":-40,"d":436},{"s":1,"x":-20,"d":425},{"s":1,"x":0,"d":408},{"s":1,"x":5,"d":381},{"s":1,"x":8.5,"d":425},{"s":1,"x":10,"d":491},{"s":1,"x":11.5,"d":425},{"s":1,"x":15,"d":364},{"s":1,"x":17,"d":315},{"s":1,"x":18.2,"d":50},
{"s":2,"x":-51,"d":1290},{"s":2,"x":-49.3,"d":1417},{"s":2,"x":-48,"d":1373},{"s":2,"x":-40,"d":1329},{"s":2,"x":-20,"d":1307},{"s":2,"x":-10,"d":1320},{"s":2,"x":-3,"d":1274},{"s":2,"x":4,"d":1246},{"s":2,"x":8,"d":1290},{"s":2,"x":10,"d":1329},{"s":2,"x":12,"d":1235},{"s":2,"x":15,"d":1180},{"s":2,"x":17,"d":1142},
{"s":3,"x":-48.1,"d":3604},{"s":3,"x":-43.8,"d":3880},{"s":3,"x":-38.9,"d":3907},{"s":3,"x":-35,"d":4029},{"s":3,"x":-33.1,"d":4029},{"s":3,"x":-28.8,"d":4100},{"s":3,"x":-23.9,"d":4139},{"s":3,"x":-11.8,"d":4084},{"s":3,"x":-7.5,"d":3962},{"s":3,"x":-5.5,"d":4007},{"s":3,"x":-0.9,"d":3918},{"s":3,"x":1.2,"d":3918},{"s":3,"x":6.1,"d":3990},{"s":3,"x":10.9,"d":3918},{"s":3,"x":12.4,"d":3808},{"s":3,"x":15.8,"d":3825}],
"tC":[{"v":35.575,"x":-55,"d":0},{"v":35.575,"x":20,"d":0},
{"v":35.525,"x":-55,"d":286},{"v":35.525,"x":-40,"d":270},{"v":35.525,"x":-30,"d":192},{"v":35.525,"x":-20,"d":82},{"v":35.525,"x":-10,"d":43},{"v":35.525,"x":6,"d":35},{"v":35.525,"x":20,"d":0},
{"v":35.475,"x":-55,"d":304},{"v":35.475,"x":-40,"d":290},{"v":35.475,"x":-30,"d":217},{"v":35.475,"x":-20,"d":116},{"v":35.475,"x":-10,"d":80},{"v":35.475,"x":0,"d":74},{"v":35.475,"x":6,"d":75},{"v":35.475,"x":12,"d":69},{"v":35.475,"x":20,"d":26},
{"v":35.425,"x":-55,"d":323},{"v":35.425,"x":-40,"d":309},{"v":35.425,"x":-30,"d":242},{"v":35.425,"x":-20,"d":151},{"v":35.425,"x":-10,"d":117},{"v":35.425,"x":0,"d":110},{"v":35.425,"x":6,"d":116},{"v":35.425,"x":12,"d":108},{"v":35.425,"x":20,"d":53},
{"v":35.375,"x":-55,"d":341},{"v":35.375,"x":-40,"d":329},{"v":35.375,"x":-30,"d":268},{"v":35.375,"x":-20,"d":185},{"v":35.375,"x":-10,"d":153},{"v":35.375,"x":0,"d":146},{"v":35.375,"x":6,"d":156},{"v":35.375,"x":12,"d":146},{"v":35.375,"x":20,"d":79},
{"v":35.325,"x":-55,"d":360},{"v":35.325,"x":-40,"d":349},{"v":35.325,"x":-30,"d":293},{"v":35.325,"x":-20,"d":220},{"v":35.325,"x":-10,"d":190},{"v":35.325,"x":0,"d":182},{"v":35.325,"x":6,"d":197},{"v":35.325,"x":12,"d":185},{"v":35.325,"x":20,"d":105},
{"v":35.275,"x":-55,"d":378},{"v":35.275,"x":-40,"d":369},{"v":35.275,"x":-30,"d":318},{"v":35.275,"x":-20,"d":254},{"v":35.275,"x":-10,"d":227},{"v":35.275,"x":0,"d":218},{"v":35.275,"x":6,"d":237},{"v":35.275,"x":12,"d":224},{"v":35.275,"x":20,"d":131},
{"v":35.225,"x":-55,"d":397},{"v":35.225,"x":-40,"d":389},{"v":35.225,"x":-30,"d":343},{"v":35.225,"x":-20,"d":288},{"v":35.225,"x":-10,"d":264},{"v":35.225,"x":0,"d":254},{"v":35.225,"x":6,"d":277},{"v":35.225,"x":12,"d":263},{"v":35.225,"x":20,"d":158},
{"v":35.175,"x":-55,"d":415},{"v":35.175,"x":-40,"d":408},{"v":35.175,"x":-30,"d":369},{"v":35.175,"x":-20,"d":323},{"v":35.175,"x":-10,"d":301},{"v":35.175,"x":0,"d":290},{"v":35.175,"x":6,"d":318},{"v":35.175,"x":12,"d":301},{"v":35.175,"x":20,"d":184},
{"v":35.125,"x":-55,"d":434},{"v":35.125,"x":-40,"d":428},{"v":35.125,"x":-30,"d":394},{"v":35.125,"x":-20,"d":357},{"v":35.125,"x":-10,"d":338},{"v":35.125,"x":0,"d":326},{"v":35.125,"x":6,"d":358},{"v":35.125,"x":12,"d":340},{"v":35.125,"x":20,"d":210},
{"v":35.075,"x":-55,"d":452},{"v":35.075,"x":-40,"d":448},{"v":35.075,"x":-30,"d":419},{"v":35.075,"x":-20,"d":392},{"v":35.075,"x":-10,"d":374},{"v":35.075,"x":0,"d":362},{"v":35.075,"x":6,"d":399},{"v":35.075,"x":12,"d":379},{"v":35.075,"x":20,"d":236},
{"v":35.025,"x":-55,"d":470},{"v":35.025,"x":-40,"d":467},{"v":35.025,"x":-30,"d":444},{"v":35.025,"x":-20,"d":426},{"v":35.025,"x":-10,"d":411},{"v":35.025,"x":0,"d":398},{"v":35.025,"x":6,"d":439},{"v":35.025,"x":12,"d":418},{"v":35.025,"x":20,"d":263},
{"v":34.975,"x":-55,"d":489},{"v":34.975,"x":-40,"d":487},{"v":34.975,"x":-30,"d":470},{"v":34.975,"x":-20,"d":461},{"v":34.975,"x":-10,"d":448},{"v":34.975,"x":0,"d":434},{"v":34.975,"x":6,"d":480},{"v":34.975,"x":12,"d":456},{"v":34.975,"x":20,"d":289},
{"v":34.925,"x":-55,"d":507},{"v":34.925,"x":-30,"d":495},{"v":34.925,"x":-10,"d":485},{"v":34.925,"x":0,"d":470},{"v":34.925,"x":6,"d":520},{"v":34.925,"x":12,"d":495},{"v":34.925,"x":20,"d":315},
{"v":34.875,"x":-55,"d":530},{"v":34.875,"x":-30,"d":520},{"v":34.875,"x":-10,"d":495},{"v":34.875,"x":6,"d":545},{"v":34.875,"x":12,"d":518},{"v":34.875,"x":20,"d":340},
{"v":34.825,"x":-55,"d":538},{"v":34.825,"x":-30,"d":528},{"v":34.825,"x":-10,"d":503},{"v":34.825,"x":6,"d":553},{"v":34.825,"x":12,"d":526},{"v":34.825,"x":20,"d":350},
{"v":34.725,"x":-55,"d":554},{"v":34.725,"x":-30,"d":544},{"v":34.725,"x":-10,"d":519},{"v":34.725,"x":6,"d":570},{"v":34.725,"x":12,"d":543},{"v":34.725,"x":20,"d":370},
{"v":34.625,"x":-55,"d":570},{"v":34.625,"x":-30,"d":560},{"v":34.625,"x":-10,"d":537},{"v":34.625,"x":6,"d":590},{"v":34.625,"x":12,"d":560},{"v":34.625,"x":20,"d":390},
{"v":34.575,"x":-55,"d":580},{"v":34.575,"x":-30,"d":570},{"v":34.575,"x":-10,"d":547},{"v":34.575,"x":6,"d":600},{"v":34.575,"x":12,"d":570},{"v":34.575,"x":20,"d":400},
{"v":34.525,"x":-55,"d":595},{"v":34.525,"x":-30,"d":585},{"v":34.525,"x":-10,"d":565},{"v":34.525,"x":6,"d":615},{"v":34.525,"x":12,"d":585},{"v":34.525,"x":20,"d":415},
{"v":34.475,"x":-55,"d":610},{"v":34.475,"x":-30,"d":600},{"v":34.475,"x":-10,"d":585},{"v":34.475,"x":6,"d":635},{"v":34.475,"x":12,"d":605},{"v":34.475,"x":20,"d":430},
{"v":34.425,"x":-55,"d":625},{"v":34.425,"x":-30,"d":615},{"v":34.425,"x":-10,"d":600},{"v":34.425,"x":6,"d":655},{"v":34.425,"x":12,"d":625},{"v":34.425,"x":20,"d":450},
{"v":34.375,"x":-55,"d":650},{"v":34.375,"x":-30,"d":640},{"v":34.375,"x":-10,"d":625},{"v":34.375,"x":6,"d":680},{"v":34.375,"x":12,"d":650},{"v":34.375,"x":20,"d":475},
{"v":34.325,"x":-55,"d":690},{"v":34.325,"x":-30,"d":680},{"v":34.325,"x":-10,"d":665},{"v":34.325,"x":6,"d":710},{"v":34.325,"x":12,"d":680},{"v":34.325,"x":20,"d":510},
{"v":34.275,"x":-55,"d":740},{"v":34.275,"x":-30,"d":730},{"v":34.275,"x":-10,"d":720},{"v":34.275,"x":6,"d":770},{"v":34.275,"x":12,"d":740},{"v":34.275,"x":20,"d":560},
{"v":34.326,"x":-55,"d":1020},{"v":34.326,"x":-30,"d":1020},{"v":34.326,"x":-10,"d":1005},{"v":34.326,"x":6,"d":1030},{"v":34.326,"x":12,"d":1000},{"v":34.326,"x":20,"d":830},
{"v":34.376,"x":-55,"d":1090},{"v":34.376,"x":-30,"d":1080},{"v":34.376,"x":-10,"d":1070},{"v":34.376,"x":6,"d":1095},{"v":34.376,"x":12,"d":1060},{"v":34.376,"x":20,"d":900},
{"v":34.426,"x":-55,"d":1160},{"v":34.426,"x":-30,"d":1140},{"v":34.426,"x":-10,"d":1130},{"v":34.426,"x":6,"d":1160},{"v":34.426,"x":12,"d":1110},{"v":34.426,"x":20,"d":960},
{"v":34.476,"x":-55,"d":1230},{"v":34.476,"x":-30,"d":1200},{"v":34.476,"x":-10,"d":1190},{"v":34.476,"x":6,"d":1220},{"v":34.476,"x":12,"d":1170},{"v":34.476,"x":20,"d":1030},
{"v":34.526,"x":-55,"d":1330},{"v":34.526,"x":-30,"d":1310},{"v":34.526,"x":-10,"d":1290},{"v":34.526,"x":6,"d":1320},{"v":34.526,"x":12,"d":1280},{"v":34.526,"x":20,"d":1100},
{"v":34.576,"x":-55,"d":1460},{"v":34.576,"x":-30,"d":1410},{"v":34.576,"x":-10,"d":1400},{"v":34.576,"x":6,"d":1430},{"v":34.576,"x":12,"d":1380},{"v":34.576,"x":20,"d":1250},
{"v":34.626,"x":-55,"d":1620},{"v":34.626,"x":-30,"d":1600},{"v":34.626,"x":-10,"d":1570},{"v":34.626,"x":6,"d":1590},{"v":34.626,"x":12,"d":1530},{"v":34.626,"x":20,"d":1400},
{"v":34.676,"x":-55,"d":1750},{"v":34.676,"x":-30,"d":1720},{"v":34.676,"x":-10,"d":1700},{"v":34.676,"x":6,"d":1720},{"v":34.676,"x":12,"d":1660},{"v":34.676,"x":20,"d":1520},
{"v":34.726,"x":-55,"d":1850},{"v":34.726,"x":-10,"d":1850},{"v":34.726,"x":6,"d":1880},{"v":34.726,"x":12,"d":1820},{"v":34.726,"x":20,"d":1650},
{"v":34.776,"x":-55,"d":1950},{"v":34.776,"x":-30,"d":1990},{"v":34.776,"x":6,"d":1990},{"v":34.776,"x":12,"d":1970},{"v":34.776,"x":20,"d":1820},
{"v":34.826,"x":-55,"d":2093},{"v":34.826,"x":-34,"d":2060},{"v":34.826,"x":-28,"d":2148},{"v":34.826,"x":-19,"d":2203},{"v":34.826,"x":-5,"d":2140},{"v":34.826,"x":10,"d":2093},{"v":34.826,"x":20,"d":1940},
{"v":34.876,"x":-55,"d":2270},{"v":34.876,"x":-44,"d":2231},{"v":34.876,"x":-37,"d":2320},{"v":34.876,"x":-27,"d":2340},{"v":34.876,"x":-20,"d":2370},{"v":34.876,"x":-16,"d":2600},{"v":34.876,"x":-13,"d":2720},{"v":34.876,"x":-5,"d":2720},{"v":34.876,"x":-4.5,"d":2720},
{"v":34.827,"x":-55,"d":3085},{"v":34.827,"x":-41,"d":3251},{"v":34.827,"x":-39,"d":3361},{"v":34.827,"x":-33,"d":3306},{"v":34.827,"x":-28,"d":3388},{"v":34.827,"x":-24,"d":3405},{"v":34.827,"x":-20,"d":3168},{"v":34.827,"x":-17,"d":3140},{"v":34.827,"x":-12,"d":3609},{"v":34.827,"x":-9,"d":3802},{"v":34.827,"x":-4.5,"d":3785},
{"v":34.777,"x":-55,"d":3443},{"v":34.777,"x":-47,"d":3443},{"v":34.777,"x":-39,"d":3664},{"v":34.777,"x":-33,"d":3636},{"v":34.777,"x":-28,"d":3691},{"v":34.777,"x":-24,"d":3857},{"v":34.777,"x":-22,"d":3995},{"v":34.777,"x":-20,"d":5000},{"v":34.777,"x":-1,"d":5000},{"v":34.777,"x":0,"d":3895},{"v":34.777,"x":6,"d":3967},{"v":34.777,"x":10,"d":3801},{"v":34.777,"x":15,"d":3664},{"v":34.777,"x":20,"d":3664},
{"v":34.727,"x":-55,"d":3600},{"v":34.727,"x":-47,"d":3600},{"v":34.727,"x":-41,"d":3700},{"v":34.727,"x":-38,"d":3800},{"v":34.727,"x":-32,"d":3830},
{"v":34.677,"x":-55,"d":3690},{"v":34.677,"x":-44.8,"d":3860},{"v":34.677,"x":-42,"d":3950},{"v":34.677,"x":-39,"d":4100},{"v":34.677,"x":-33,"d":4130},{"v":34.677,"x":-31,"d":5400},{"v":34.677,"x":-1,"d":5400},{"v":34.677,"x":0,"d":4200},{"v":34.677,"x":2,"d":4242},{"v":34.677,"x":4,"d":4408},{"v":34.677,"x":7.3,"d":4628},{"v":34.677,"x":9.4,"d":4463},{"v":34.677,"x":10.2,"d":4298},{"v":34.677,"x":14,"d":4187},{"v":34.677,"x":20,"d":4160}],
"lC":[{"s":1,"x":-50,"d":515},{"s":1,"x":-37.7,"d":515},{"s":4,"x":-30.9,"d":505},{"s":4,"x":-20,"d":505},{"s":4,"x":-10.7,"d":490},{"s":4,"x":-5,"d":480},{"s":4,"x":2,"d":490},{"s":4,"x":5.5,"d":535},{"s":4,"x":10,"d":515},{"s":4,"x":11,"d":505},{"s":4,"x":16.9,"d":374},
{"s":2,"x":-50,"d":1395},{"s":2,"x":-38,"d":1340},{"s":5,"x":-31,"d":1325},{"s":5,"x":-20.3,"d":1340},{"s":5,"x":-11.2,"d":1310},{"s":5,"x":-5,"d":1274},{"s":5,"x":5.5,"d":1290},{"s":5,"x":10.6,"d":1240},{"s":5,"x":16,"d":1097},
{"s":3,"x":-47,"d":3907},{"s":3,"x":-44.8,"d":4045},{"s":3,"x":-42,"d":3973},{"s":3,"x":-40.5,"d":4018},{"s":3,"x":-39,"d":4117},{"s":3,"x":-35.4,"d":4227}],
"tD":[{"v":35.575,"x":-53.4,"d":0},{"v":35.575,"x":-37,"d":0},{"v":35.525,"x":-37,"d":0},{"v":35.525,"x":-33.8,"d":0},{"v":35.475,"x":-33.8,"d":0},{"v":35.475,"x":-27.5,"d":0},{"v":35.425,"x":-27.5,"d":0},{"v":35.425,"x":-12.3,"d":0},{"v":35.325,"x":-12.3,"d":0},{"v":35.325,"x":-4,"d":0},{"v":35.225,"x":-4,"d":0},{"v":35.225,"x":3.2,"d":0},{"v":35.326,"x":3.2,"d":0},{"v":35.326,"x":8,"d":0},{"v":35.426,"x":8,"d":0},{"v":35.426,"x":10.3,"d":0},{"v":35.327,"x":10.3,"d":0},{"v":35.327,"x":18.4,"d":0},
{"v":35.275,"x":-53,"d":100},{"v":35.275,"x":-51.5,"d":192},{"v":35.275,"x":-50,"d":319},{"v":35.275,"x":-40.9,"d":275},
{"v":35.226,"x":-40.9,"d":275},{"v":35.226,"x":-32.1,"d":247},{"v":35.175,"x":-32.1,"d":247},{"v":35.175,"x":-24.4,"d":230},{"v":35.125,"x":-24.4,"d":230},{"v":35.125,"x":-16.7,"d":220},{"v":35.075,"x":-16.7,"d":220},{"v":35.075,"x":-10.9,"d":165},{"v":35.025,"x":-10.9,"d":165},{"v":35.025,"x":-4.6,"d":153},{"v":34.975,"x":-4.6,"d":153},{"v":34.975,"x":-0.7,"d":158},{"v":34.925,"x":-0.7,"d":158},{"v":34.925,"x":3.2,"d":165},{"v":34.976,"x":3.2,"d":165},{"v":34.976,"x":8,"d":192},{"v":35.076,"x":8,"d":192},{"v":35.076,"x":9.9,"d":286},{"v":35.026,"x":9.9,"d":286},{"v":35.026,"x":11.9,"d":192},{"v":34.977,"x":11.9,"d":192},{"v":34.977,"x":15.7,"d":137},{"v":34.926,"x":15.7,"d":137},{"v":34.926,"x":18.4,"d":0},
{"v":34.575,"x":-53,"d":100},{"v":34.575,"x":-51,"d":357},{"v":34.575,"x":-49.8,"d":495},{"v":34.575,"x":-48.6,"d":484},{"v":34.575,"x":-46,"d":455},
{"v":34.625,"x":-46,"d":455},{"v":34.625,"x":-44.7,"d":440},{"v":34.625,"x":-38.9,"d":429},{"v":34.625,"x":-14.7,"d":423},
{"v":34.576,"x":-14.7,"d":423},{"v":34.576,"x":-6,"d":412},{"v":34.576,"x":3.3,"d":412},
{"v":34.626,"x":3.3,"d":412},{"v":34.626,"x":7,"d":429},{"v":34.626,"x":9.9,"d":495},{"v":34.626,"x":12.4,"d":385},{"v":34.626,"x":17.2,"d":330},{"v":34.626,"x":18.4,"d":27},
{"v":34.325,"x":-53,"d":200},{"v":34.325,"x":-51.5,"d":350},{"v":34.325,"x":-50,"d":660},{"v":34.325,"x":-47,"d":600},{"v":34.325,"x":-30,"d":610},{"v":34.325,"x":-10.5,"d":618},
{"v":34.375,"x":-10.5,"d":618},{"v":34.375,"x":-4,"d":620},{"v":34.425,"x":-4,"d":620},{"v":34.425,"x":1.5,"d":605},{"v":34.525,"x":1.5,"d":605},{"v":34.525,"x":8.5,"d":640},
{"v":34.577,"x":8.5,"d":715},{"v":34.577,"x":10,"d":760},{"v":34.577,"x":11.5,"d":690},{"v":34.577,"x":15,"d":620},{"v":34.577,"x":17,"d":500},{"v":34.577,"x":18.4,"d":150},
{"v":34.426,"x":-53,"d":600},{"v":34.426,"x":-51,"d":1000},{"v":34.426,"x":-49,"d":1184},{"v":34.426,"x":-45,"d":1170},{"v":34.426,"x":-41,"d":1156},
{"v":34.376,"x":-41,"d":1156},{"v":34.376,"x":-28.5,"d":1130},{"v":34.427,"x":-28.5,"d":1130},{"v":34.427,"x":-19.8,"d":1120},{"v":34.475,"x":-19.8,"d":1120},{"v":34.475,"x":-8.2,"d":1100},
{"v":34.526,"x":-8.2,"d":1100},{"v":34.526,"x":-5,"d":1080},{"v":34.526,"x":2,"d":1060},{"v":34.526,"x":8.5,"d":1100},{"v":34.526,"x":10,"d":1150},{"v":34.526,"x":11.5,"d":1060},{"v":34.526,"x":15,"d":960},{"v":34.526,"x":17,"d":850},{"v":34.526,"x":18.4,"d":700},
{"v":34.476,"x":-53.4,"d":1100},{"v":34.476,"x":-51,"d":1310},{"v":34.476,"x":-49.8,"d":1415},{"v":34.476,"x":-47.9,"d":1349},{"v":34.476,"x":-40,"d":1310},{"v":34.476,"x":-31,"d":1310},
{"v":34.428,"x":-31,"d":1310},{"v":34.428,"x":-23.4,"d":1322},{"v":34.428,"x":-18,"d":1330},{"v":34.477,"x":-18,"d":1330},{"v":34.477,"x":-5.4,"d":1300},{"v":34.527,"x":-5.4,"d":1300},{"v":34.527,"x":-2,"d":1285},
{"v":34.578,"x":-2,"d":1285},{"v":34.578,"x":3.7,"d":1267},{"v":34.578,"x":9.9,"d":1333},{"v":34.578,"x":12.4,"d":1239},{"v":34.578,"x":17.2,"d":1145},{"v":34.578,"x":18.4,"d":1100},
{"v":34.627,"x":-53.4,"d":1300},{"v":34.627,"x":-51,"d":1400},{"v":34.627,"x":-47,"d":1550},{"v":34.627,"x":-30,"d":1500},{"v":34.627,"x":-10,"d":1480},{"v":34.627,"x":3,"d":1400},{"v":34.627,"x":10,"d":1400},{"v":34.627,"x":17.2,"d":1280},{"v":34.627,"x":18.4,"d":1200},
{"v":34.676,"x":-53.4,"d":1500},{"v":34.676,"x":-49.3,"d":1680},{"v":34.676,"x":-44,"d":1660},{"v":34.676,"x":-35,"d":1650},{"v":34.676,"x":-6,"d":1597},{"v":34.676,"x":3.4,"d":1540},{"v":34.676,"x":17,"d":1487},{"v":34.676,"x":18.4,"d":1400},
{"v":34.726,"x":-53.4,"d":1650},{"v":34.726,"x":-49.6,"d":1818},{"v":34.726,"x":-45,"d":1762},{"v":34.726,"x":-44.9,"d":1873},{"v":34.726,"x":-34.6,"d":1873},{"v":34.726,"x":-6,"d":1790},{"v":34.726,"x":2,"d":1762},{"v":34.726,"x":18.4,"d":1707},
{"v":34.776,"x":-53.4,"d":1800},{"v":34.776,"x":-49.6,"d":2010},{"v":34.776,"x":-46,"d":1920},{"v":34.776,"x":-34.6,"d":1900},{"v":34.776,"x":-34.5,"d":2049},{"v":34.776,"x":-5,"d":2050},{"v":34.776,"x":2,"d":1930},{"v":34.776,"x":18.4,"d":1850},
{"v":34.826,"x":-53.4,"d":1950},{"v":34.826,"x":-50,"d":2200},{"v":34.826,"x":-47,"d":2150},{"v":34.826,"x":-32.7,"d":2038},{"v":34.826,"x":-32.6,"d":2231},{"v":34.826,"x":-13,"d":2270},{"v":34.826,"x":2,"d":2120},{"v":34.826,"x":17,"d":2148},{"v":34.826,"x":18.4,"d":2000},
{"v":34.876,"x":-53.4,"d":2100},{"v":34.876,"x":-50,"d":2258},{"v":34.876,"x":-32,"d":2231},{"v":34.876,"x":-13,"d":2270},{"v":34.876,"x":6.7,"d":2450},{"v":34.876,"x":6.8,"d":2203},{"v":34.876,"x":17,"d":2148},{"v":34.876,"x":18.4,"d":2100},
{"v":34.927,"x":-53.4,"d":2050},{"v":34.927,"x":-51,"d":2050},{"v":34.927,"x":-49.5,"d":2200},{"v":34.927,"x":-47,"d":2368},{"v":34.927,"x":-36.5,"d":2368},{"v":34.927,"x":-36.4,"d":2672},{"v":34.927,"x":-31,"d":2700},
{"v":34.877,"x":-53.4,"d":3400},{"v":34.877,"x":-48.2,"d":3500},{"v":34.877,"x":-40.45,"d":3691},{"v":34.877,"x":-40.4,"d":3223},{"v":34.877,"x":-32.6,"d":3140},{"v":34.877,"x":-31,"d":3140},
{"v":34.827,"x":-53.4,"d":3450},{"v":34.827,"x":-48.2,"d":3500},{"v":34.827,"x":-46,"d":3650},{"v":34.827,"x":-41,"d":3850},{"v":34.827,"x":-40.4,"d":3720},{"v":34.827,"x":-31,"d":3700},{"v":34.827,"x":-30,"d":3581},{"v":34.827,"x":-25,"d":3681},{"v":34.827,"x":-24.9,"d":3940},{"v":34.827,"x":-20,"d":3900},{"v":34.827,"x":-14.5,"d":3526},{"v":34.827,"x":-10,"d":3580},{"v":34.827,"x":-9.8,"d":3912},{"v":34.827,"x":-5.5,"d":3940},{"v":34.827,"x":-1.5,"d":3900},{"v":34.827,"x":0.6,"d":3040},{"v":34.827,"x":8,"d":3030},{"v":34.827,"x":10,"d":2950},{"v":34.827,"x":18.4,"d":3000},
{"v":34.777,"x":-53.4,"d":3630},{"v":34.777,"x":-48.2,"d":3636},{"v":34.777,"x":-43,"d":3995},{"v":34.777,"x":-40.4,"d":4105},{"v":34.777,"x":-33,"d":4040},{"v":34.777,"x":-28.5,"d":4077},{"v":34.777,"x":-25.4,"d":4143},{"v":34.777,"x":-22,"d":4500},{"v":34.777,"x":-10,"d":4500},{"v":34.777,"x":-9.3,"d":4060},{"v":34.777,"x":-5.2,"d":3995},{"v":34.777,"x":-1.5,"d":3800},{"v":34.777,"x":0.8,"d":3664},{"v":34.777,"x":7.5,"d":3581},{"v":34.777,"x":15.5,"d":3526},{"v":34.777,"x":18.4,"d":3526},
{"v":34.677,"x":-53.4,"d":3640},{"v":34.677,"x":-48.2,"d":3640},{"v":34.677,"x":-43,"d":3900},{"v":34.677,"x":-40,"d":4000},{"v":34.677,"x":-33.5,"d":4030},{"v":34.677,"x":-28.5,"d":4100},{"v":34.677,"x":-24,"d":4150},{"v":34.677,"x":-23,"d":5300},{"v":34.677,"x":-10,"d":5300},{"v":34.677,"x":-9,"d":4100},{"v":34.677,"x":-5,"d":4000},{"v":34.677,"x":-1.5,"d":4000},{"v":34.677,"x":1.3,"d":4380},{"v":34.677,"x":6.5,"d":4545},{"v":34.677,"x":12,"d":4325},{"v":34.677,"x":18.4,"d":4325}],
"lD":[{"s":1,"x":-51,"d":357},{"s":1,"x":-49.8,"d":495},{"s":1,"x":-48.6,"d":484},{"s":1,"x":-44.7,"d":440},{"s":1,"x":-39.6,"d":429},{"s":4,"x":-32.9,"d":429},{"s":4,"x":-15.7,"d":423},{"s":4,"x":-6,"d":412},{"s":4,"x":3.7,"d":412},{"s":4,"x":7,"d":429},{"s":4,"x":9.9,"d":495},{"s":4,"x":12.4,"d":385},{"s":4,"x":17.2,"d":330},{"s":4,"x":18.1,"d":27},
{"s":2,"x":-51,"d":1310},{"s":2,"x":-49.8,"d":1415},{"s":2,"x":-47.9,"d":1349},{"s":2,"x":-39.7,"d":1310},{"s":5,"x":-33.1,"d":1300},{"s":5,"x":-23.4,"d":1322},{"s":5,"x":-13,"d":1338},{"s":5,"x":-6,"d":1294},{"s":5,"x":3.7,"d":1267},{"s":5,"x":9.9,"d":1333},{"s":5,"x":12.4,"d":1239},{"s":5,"x":17.2,"d":1145},
{"s":3,"x":-42.5,"d":3895},{"s":3,"x":-38.9,"d":3912},{"s":3,"x":-34.7,"d":4033},{"s":3,"x":-33,"d":4033},{"s":3,"x":-28.5,"d":4094},{"s":3,"x":-25.4,"d":4143},{"s":3,"x":-21.8,"d":4143},{"s":3,"x":-9.3,"d":4060},{"s":3,"x":-7.3,"d":3955},{"s":3,"x":-5.2,"d":3995},{"s":3,"x":-1,"d":3912},{"s":3,"x":0.5,"d":3930},{"s":3,"x":1.8,"d":3900},{"s":3,"x":3.9,"d":3940},{"s":6,"x":10.4,"d":3950},{"s":6,"x":11.9,"d":3840},{"s":6,"x":15.5,"d":3818},{"s":6,"x":15.8,"d":3850}]
},
"concat":[
{"width":494,"height":333,"title":{"text":"Argo-WOA13","font":"Liberation Serif","fontSize":30,"fontWeight":"normal","color":"#222222","offset":8,"dx":-3},"resolve":{"axis":{"x":"independent","y":"independent"}},"layer":[
{"data":{"name":"tA"},"mark":{"type":"area","orient":"vertical","clip":true,"stroke":"white","strokeOpacity":0.3,"strokeWidth":0.7},"encoding":{"x":{"field":"x","type":"quantitative","scale":{"domain":[-55,20],"nice":false,"zero":false},"axis":{"values":[-50,-40,-30,-20,-10,0,10,20],"labels":false,"title":null}},"y":{"field":"d","type":"quantitative","scale":{"domain":[0,5500],"reverse":true,"nice":false},"axis":{"values":[1000,2000,3000,4000,5000],"title":"Depth, m","titlePadding":7,"titleY":171}},"y2":{"datum":5500},"detail":{"field":"v","type":"nominal"},"color":{"field":"v","type":"quantitative","scale":{"type":"quantize","domain":[0,16],"range":["#00009f","#0000bf","#0000df","#0000ff","#0020ff","#0040ff","#0060ff","#0080ff","#009fff","#00bfff","#00dfff","#00ffff","#20ffdf","#40ffbf","#60ff9f","#80ff80","#9fff60","#bfff40","#dfff20","#ffff00","#ffdf00","#ffbf00","#ff9f00","#ff8000","#ff6000","#ff4000","#ff2000","#ff0000","#df0000","#bf0000","#9f0000","#800000"]},"legend":{"type":"gradient","orient":"none","legendX":502,"legendY":9,"title":null,"gradientLength":314,"gradientThickness":16,"values":[0,0.5,1,1.5,2,2.5,3,3.5,4,4.5,5,5.5,6,6.5,7,7.5,8,8.5,9,9.5,10,10.5,11,11.5,12,12.5,13,13.5,14,14.5,15,15.5,16],"labelExpr":"datum.value%4==0?''+datum.value:''","labelOverlap":false,"gradientStrokeColor":"#404040","gradientStrokeWidth":1,"encoding":{"labels":{"update":{"baseline":{"value":"middle"}}}}}}}},
{"data":{"name":"pA"},"mark":{"type":"area","orient":"vertical","clip":true,"stroke":"white","strokeOpacity":0.3,"strokeWidth":0.7},"encoding":{"x":{"field":"x","type":"quantitative","axis":null},"y":{"field":"d","type":"quantitative","axis":null},"y2":{"field":"b"},"detail":{"field":"v","type":"nominal"},"color":{"field":"v","type":"quantitative","scale":{"type":"quantize"},"legend":null}}},
{"data":{"name":"lA"},"mark":{"type":"line","color":"black","strokeWidth":1.1,"clip":true},"encoding":{"x":{"field":"x","type":"quantitative","axis":null},"y":{"field":"d","type":"quantitative","axis":null},"detail":{"field":"s","type":"nominal"}}},
{"data":{"name":"mA"},"mark":{"type":"area","orient":"vertical","color":"white","clip":true},"encoding":{"x":{"field":"x","type":"quantitative","axis":null},"y":{"field":"d","type":"quantitative","axis":null},"y2":{"datum":5500}}},
{"data":{"name":"bA"},"mark":{"type":"area","orient":"vertical","color":"#999999","clip":true},"encoding":{"x":{"field":"x","type":"quantitative","axis":null},"y":{"field":"d","type":"quantitative","axis":null},"y2":{"datum":5500}}},
{"data":{"name":"bA"},"mark":{"type":"line","color":"black","strokeWidth":1,"clip":true},"encoding":{"x":{"field":"x","type":"quantitative","axis":{"orient":"top","values":[-50,-40,-30,-20,-10,0,10,20],"labels":false,"title":null}},"y":{"field":"d","type":"quantitative","axis":{"orient":"right","values":[1000,2000,3000,4000,5000],"labels":false,"title":null}}}},
{"data":{"values":[{"x":-20,"d":1015,"t":"AAIW"},{"x":-20,"d":2502,"t":"NADW"}]},"mark":{"type":"text","color":"white","fontSize":14.5,"font":"Liberation Sans"},"encoding":{"x":{"field":"x","type":"quantitative","axis":null},"y":{"field":"d","type":"quantitative","axis":null},"text":{"field":"t"}}}
]},
{"width":494,"height":333,"title":{"text":"HYCOM","font":"Liberation Serif","fontSize":30,"fontWeight":"normal","color":"#222222","offset":8,"dx":-4},"resolve":{"axis":{"x":"independent","y":"independent"}},"layer":[
{"data":{"name":"tB"},"mark":{"type":"area","orient":"vertical","clip":true,"stroke":"white","strokeOpacity":0.3,"strokeWidth":0.7},"encoding":{"x":{"field":"x","type":"quantitative","scale":{"domain":[-53.4,18.4],"nice":false,"zero":false},"axis":{"values":[-50,-40,-30,-20,-10,0,10],"labels":false,"title":null}},"y":{"field":"d","type":"quantitative","scale":{"domain":[0,5500],"reverse":true,"nice":false},"axis":{"values":[1000,2000,3000,4000,5000],"title":"Depth, m","titlePadding":7,"titleY":171}},"y2":{"datum":5500},"detail":{"field":"v","type":"nominal"},"color":{"field":"v","type":"quantitative","scale":{"type":"quantize","domain":[0,16],"range":["#00009f","#0000bf","#0000df","#0000ff","#0020ff","#0040ff","#0060ff","#0080ff","#009fff","#00bfff","#00dfff","#00ffff","#20ffdf","#40ffbf","#60ff9f","#80ff80","#9fff60","#bfff40","#dfff20","#ffff00","#ffdf00","#ffbf00","#ff9f00","#ff8000","#ff6000","#ff4000","#ff2000","#ff0000","#df0000","#bf0000","#9f0000","#800000"]},"legend":{"type":"gradient","orient":"none","legendX":502,"legendY":9,"title":null,"gradientLength":314,"gradientThickness":16,"values":[0,0.5,1,1.5,2,2.5,3,3.5,4,4.5,5,5.5,6,6.5,7,7.5,8,8.5,9,9.5,10,10.5,11,11.5,12,12.5,13,13.5,14,14.5,15,15.5,16],"labelExpr":"datum.value%4==0?''+datum.value:''","labelOverlap":false,"gradientStrokeColor":"#404040","gradientStrokeWidth":1,"encoding":{"labels":{"update":{"baseline":{"value":"middle"}}}}}}}},
{"data":{"name":"pB"},"mark":{"type":"area","orient":"vertical","clip":true,"stroke":"white","strokeOpacity":0.3,"strokeWidth":0.7},"encoding":{"x":{"field":"x","type":"quantitative","axis":null},"y":{"field":"d","type":"quantitative","axis":null},"y2":{"field":"b"},"detail":{"field":"v","type":"nominal"},"color":{"field":"v","type":"quantitative","scale":{"type":"quantize"},"legend":null}}},
{"data":{"name":"lB"},"mark":{"type":"line","color":"black","strokeWidth":1.1,"clip":true},"encoding":{"x":{"field":"x","type":"quantitative","axis":null},"y":{"field":"d","type":"quantitative","axis":null},"detail":{"field":"s","type":"nominal"}}},
{"data":{"name":"bH"},"mark":{"type":"area","orient":"vertical","color":"#999999","clip":true},"encoding":{"x":{"field":"x","type":"quantitative","axis":null},"y":{"field":"d","type":"quantitative","axis":null},"y2":{"datum":5500}}},
{"data":{"name":"bH"},"mark":{"type":"line","color":"black","strokeWidth":1.1,"clip":true},"encoding":{"x":{"field":"x","type":"quantitative","axis":{"orient":"top","values":[-50,-40,-30,-20,-10,0,10],"labels":false,"title":null}},"y":{"field":"d","type":"quantitative","axis":{"orient":"right","values":[1000,2000,3000,4000,5000],"labels":false,"title":null}}}},
{"data":{"values":[{"x":-20,"d":1015,"t":"AAIW"},{"x":-20,"d":2502,"t":"NADW"}]},"mark":{"type":"text","color":"white","fontSize":14.5,"font":"Liberation Sans"},"encoding":{"x":{"field":"x","type":"quantitative","axis":null},"y":{"field":"d","type":"quantitative","axis":null},"text":{"field":"t"}}}
]},
{"width":494,"height":333,"resolve":{"axis":{"x":"independent","y":"independent"}},"layer":[
{"data":{"name":"tC"},"mark":{"type":"area","orient":"vertical","clip":true,"stroke":"white","strokeOpacity":0.3,"strokeWidth":0.7},"encoding":{"x":{"field":"x","type":"quantitative","scale":{"domain":[-55,20],"nice":false,"zero":false},"axis":{"values":[-50,-40,-30,-20,-10,0,10,20],"title":"Longitude","titlePadding":5,"titleX":243}},"y":{"field":"d","type":"quantitative","scale":{"domain":[0,5500],"reverse":true,"nice":false},"axis":{"values":[1000,2000,3000,4000,5000],"title":"Depth, m","titlePadding":7,"titleY":171}},"y2":{"datum":5500},"detail":{"field":"v","type":"nominal"},"color":{"field":"v","type":"quantitative","scale":{"type":"quantize","domain":[34,35.6],"range":["#00009f","#0000bf","#0000df","#0000ff","#0020ff","#0040ff","#0060ff","#0080ff","#009fff","#00bfff","#00dfff","#00ffff","#20ffdf","#40ffbf","#60ff9f","#80ff80","#9fff60","#bfff40","#dfff20","#ffff00","#ffdf00","#ffbf00","#ff9f00","#ff8000","#ff6000","#ff4000","#ff2000","#ff0000","#df0000","#bf0000","#9f0000","#800000"]},"legend":{"type":"gradient","orient":"none","legendX":502,"legendY":9,"title":null,"gradientLength":314,"gradientThickness":16,"values":[34,34.051,34.101,34.151,34.201,34.251,34.301,34.351,34.401,34.451,34.501,34.551,34.601,34.651,34.701,34.751,34.801,34.851,34.901,34.951,35.001,35.051,35.101,35.151,35.201,35.251,35.301,35.351,35.401,35.451,35.501,35.551,35.6],"labelExpr":"datum.value==34?'34':abs((datum.value-34)/0.4-round((datum.value-34)/0.4))<0.01?format(datum.value,'.1f'):''","labelOverlap":false,"gradientStrokeColor":"#404040","gradientStrokeWidth":1,"encoding":{"labels":{"update":{"baseline":{"value":"middle"}}}}}}}},
{"data":{"name":"pC"},"mark":{"type":"area","orient":"vertical","clip":true,"stroke":"white","strokeOpacity":0.3,"strokeWidth":0.7},"encoding":{"x":{"field":"x","type":"quantitative","axis":null},"y":{"field":"d","type":"quantitative","axis":null},"y2":{"field":"b"},"detail":{"field":"v","type":"nominal"},"color":{"field":"v","type":"quantitative","scale":{"type":"quantize"},"legend":null}}},
{"data":{"name":"lC"},"mark":{"type":"line","color":"black","strokeWidth":1.1,"clip":true},"encoding":{"x":{"field":"x","type":"quantitative","axis":null},"y":{"field":"d","type":"quantitative","axis":null},"detail":{"field":"s","type":"nominal"}}},
{"data":{"name":"mA"},"mark":{"type":"area","orient":"vertical","color":"white","clip":true},"encoding":{"x":{"field":"x","type":"quantitative","axis":null},"y":{"field":"d","type":"quantitative","axis":null},"y2":{"datum":5500}}},
{"data":{"name":"bA"},"mark":{"type":"area","orient":"vertical","color":"#999999","clip":true},"encoding":{"x":{"field":"x","type":"quantitative","axis":null},"y":{"field":"d","type":"quantitative","axis":null},"y2":{"datum":5500}}},
{"data":{"name":"bA"},"mark":{"type":"line","color":"black","strokeWidth":1,"clip":true},"encoding":{"x":{"field":"x","type":"quantitative","axis":{"orient":"top","values":[-50,-40,-30,-20,-10,0,10,20],"labels":false,"title":null}},"y":{"field":"d","type":"quantitative","axis":{"orient":"right","values":[1000,2000,3000,4000,5000],"labels":false,"title":null}}}},
{"data":{"values":[{"x":-20,"d":1007,"t":"AAIW"}]},"mark":{"type":"text","color":"white","fontSize":14.5,"font":"Liberation Sans"},"encoding":{"x":{"field":"x","type":"quantitative","axis":null},"y":{"field":"d","type":"quantitative","axis":null},"text":{"field":"t"}}},
{"data":{"values":[{"x":-20,"d":2506,"t":"NADW"},{"x":-34.6,"d":534,"t":"35.65"},{"x":-34.8,"d":1349,"t":"36.58"}]},"mark":{"type":"text","color":"black","fontSize":13.5,"font":"Liberation Sans"},"encoding":{"x":{"field":"x","type":"quantitative","axis":null},"y":{"field":"d","type":"quantitative","axis":null},"text":{"field":"t"}}}
]},
{"width":494,"height":333,"resolve":{"axis":{"x":"independent","y":"independent"}},"layer":[
{"data":{"name":"tD"},"mark":{"type":"area","orient":"vertical","clip":true,"stroke":"white","strokeOpacity":0.3,"strokeWidth":0.7},"encoding":{"x":{"field":"x","type":"quantitative","scale":{"domain":[-53.4,18.4],"nice":false,"zero":false},"axis":{"values":[-50,-40,-30,-20,-10,0,10],"title":"Longitude","titlePadding":5,"titleX":243}},"y":{"field":"d","type":"quantitative","scale":{"domain":[0,5500],"reverse":true,"nice":false},"axis":{"values":[1000,2000,3000,4000,5000],"title":"Depth, m","titlePadding":7,"titleY":171}},"y2":{"datum":5500},"detail":{"field":"v","type":"nominal"},"color":{"field":"v","type":"quantitative","scale":{"type":"quantize","domain":[34,35.6],"range":["#00009f","#0000bf","#0000df","#0000ff","#0020ff","#0040ff","#0060ff","#0080ff","#009fff","#00bfff","#00dfff","#00ffff","#20ffdf","#40ffbf","#60ff9f","#80ff80","#9fff60","#bfff40","#dfff20","#ffff00","#ffdf00","#ffbf00","#ff9f00","#ff8000","#ff6000","#ff4000","#ff2000","#ff0000","#df0000","#bf0000","#9f0000","#800000"]},"legend":{"type":"gradient","orient":"none","legendX":502,"legendY":9,"title":null,"gradientLength":314,"gradientThickness":16,"values":[34,34.051,34.101,34.151,34.201,34.251,34.301,34.351,34.401,34.451,34.501,34.551,34.601,34.651,34.701,34.751,34.801,34.851,34.901,34.951,35.001,35.051,35.101,35.151,35.201,35.251,35.301,35.351,35.401,35.451,35.501,35.551,35.6],"labelExpr":"datum.value==34?'34':abs((datum.value-34)/0.4-round((datum.value-34)/0.4))<0.01?format(datum.value,'.1f'):''","labelOverlap":false,"gradientStrokeColor":"#404040","gradientStrokeWidth":1,"encoding":{"labels":{"update":{"baseline":{"value":"middle"}}}}}}}},
{"data":{"name":"lD"},"mark":{"type":"line","color":"black","strokeWidth":1.1,"clip":true},"encoding":{"x":{"field":"x","type":"quantitative","axis":null},"y":{"field":"d","type":"quantitative","axis":null},"detail":{"field":"s","type":"nominal"}}},
{"data":{"name":"bH"},"mark":{"type":"area","orient":"vertical","color":"#999999","clip":true},"encoding":{"x":{"field":"x","type":"quantitative","axis":null},"y":{"field":"d","type":"quantitative","axis":null},"y2":{"datum":5500}}},
{"data":{"name":"bH"},"mark":{"type":"line","color":"black","strokeWidth":1.1,"clip":true},"encoding":{"x":{"field":"x","type":"quantitative","axis":{"orient":"top","values":[-50,-40,-30,-20,-10,0,10],"labels":false,"title":null}},"y":{"field":"d","type":"quantitative","axis":{"orient":"right","values":[1000,2000,3000,4000,5000],"labels":false,"title":null}}}},
{"data":{"values":[{"x":-20,"d":1007,"t":"AAIW"}]},"mark":{"type":"text","color":"white","fontSize":14.5,"font":"Liberation Sans"},"encoding":{"x":{"field":"x","type":"quantitative","axis":null},"y":{"field":"d","type":"quantitative","axis":null},"text":{"field":"t"}}},
{"data":{"values":[{"x":-20,"d":2506,"t":"NADW"},{"x":-36.5,"d":451,"t":"35.65"},{"x":-36.7,"d":1338,"t":"36.58"},{"x":6.7,"d":3975,"t":"37.12"}]},"mark":{"type":"text","color":"black","fontSize":13.5,"font":"Liberation Sans"},"encoding":{"x":{"field":"x","type":"quantitative","axis":null},"y":{"field":"d","type":"quantitative","axis":null},"text":{"field":"t"}}},
{"data":{"values":[{"x":-45.9,"d":3702,"t":"37.12"}]},"mark":{"type":"text","color":"black","fontSize":13.5,"font":"Liberation Sans","angle":22},"encoding":{"x":{"field":"x","type":"quantitative","axis":null},"y":{"field":"d","type":"quantitative","axis":null},"text":{"field":"t"}}}
]}
]}
